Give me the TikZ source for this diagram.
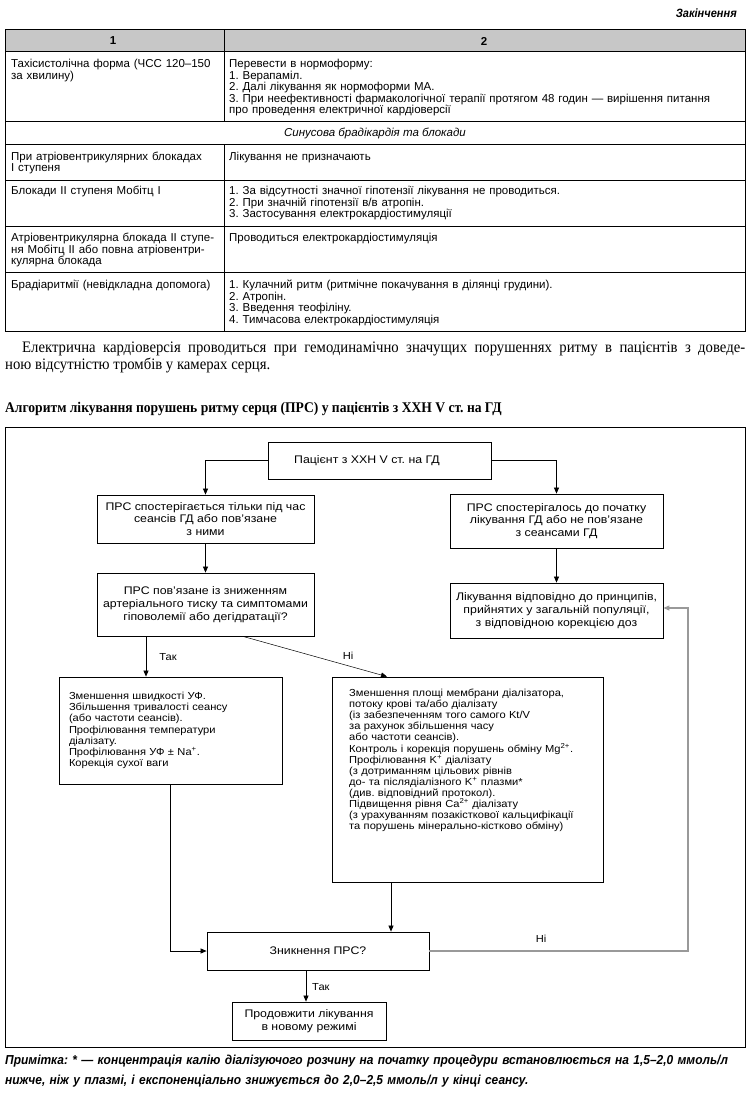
\documentclass[tikz,border=0pt]{standalone}
\usepackage{fontspec}
\setmainfont{Liberation Sans}
\newfontfamily\tabfont{Liberation Sans}
\newfontfamily\boxfont[FakeStretch=1.12]{Liberation Sans}
\newfontfamily\smallfont[FakeStretch=1.09]{Liberation Sans}
\newfontfamily\serfont[FakeStretch=0.92]{Liberation Serif}
\newfontfamily\notefont[FakeStretch=0.92]{Liberation Sans}
\usetikzlibrary{arrows.meta}
\begin{document}
\frenchspacing
\begin{tikzpicture}[x=1pt,y=-1pt,
  tline/.style={line width=1pt},
  ttext/.style={anchor=base west, inner sep=0pt, align=left, font=\tabfont\fontsize{11.5}{11.5}\selectfont},
  box/.style={draw, line width=0.8pt, inner sep=0pt, align=center, font=\boxfont\fontsize{11}{12.8}\selectfont},
  conn/.style={line width=0.7pt, -{Triangle[length=6pt,width=5pt]}},
  greyconn/.style={conn, draw=black!40, line width=1.1pt},
  lbl/.style={inner sep=0pt, font=\smallfont\fontsize{10.2}{12}\selectfont},
]
\useasboundingbox (0,0) rectangle (752,1097);

% ---------- table ----------
\node[anchor=base east, inner sep=0pt, font=\notefont\bfseries\itshape\fontsize{12}{12}\selectfont] (cont) at (737,18) {Закінчення};
\fill[black!22] (5,30) rectangle (745,52);
\draw[tline] (5,30) rectangle (745,331);
\foreach \yy in {52,122,144,180,226,272} \draw[tline] (5,\yy) -- (745,\yy);
\draw[tline] (224,30) -- (224,122);
\draw[tline] (224,144) -- (224,331);
\node[inner sep=0pt, font=\tabfont\bfseries\fontsize{11.5}{12}\selectfont] (h1) at (113,41) {1};
\node[inner sep=0pt, font=\tabfont\bfseries\fontsize{11.5}{12}\selectfont] (h2) at (484,41) {2};

\node[ttext, text width=212pt] (r1a) at (11,68) {Тахісистолічна форма (ЧСС 120–150\\за хвилину)};
\node[ttext, text width=515pt] (r1b) at (229,68) {Перевести в нормоформу:\\1. Верапаміл.\\2. Далі лікування як нормоформи МА.\\3. При неефективності фармакологічної терапії протягом 48 годин — вирішення питання\\про проведення електричної кардіоверсії};
\node[inner sep=0pt, font=\tabfont\itshape\fontsize{11.5}{11.5}\selectfont] (r2) at (375,133) {Синусова брадікардія та блокади};
\node[ttext, text width=212pt] (r3a) at (11,160.5) {При атріовентрикулярних блокадах\\І ступеня};
\node[ttext, text width=515pt] (r3b) at (229,160.5) {Лікування не призначають};
\node[ttext, text width=212pt] (r4a) at (11,194.5) {Блокади ІІ ступеня Мобітц І};
\node[ttext, text width=515pt] (r4b) at (229,194.5) {1. За відсутності значної гіпотензії лікування не проводиться.\\2. При значній гіпотензії в/в атропін.\\3. Застосування електрокардіостимуляції};
\node[ttext, text width=212pt] (r5a) at (11,241.5) {Атріовентрикулярна блокада ІІ ступе-\\ня Мобітц ІІ або повна атріовентри-\\кулярна блокада};
\node[ttext, text width=515pt] (r5b) at (229,241.5) {Проводиться електрокардіостимуляція};
\node[ttext, text width=212pt] (r6a) at (11,288.5) {Брадіаритмії (невідкладна допомога)};
\node[ttext, text width=515pt] (r6b) at (229,288.5) {1. Кулачний ритм (ритмічне покачування в ділянці грудини).\\2. Атропін.\\3. Введення теофіліну.\\4. Тимчасова електрокардіостимуляція};

% ---------- paragraph ----------
\node[anchor=base west, inner sep=0pt, font=\serfont\fontsize{16}{17}\selectfont] (p1) at (22,352)
  {\makebox[723pt][s]{Електрична кардіоверсія проводиться при гемодинамічно значущих порушеннях ритму в пацієнтів з доведе-}};
\node[anchor=base west, inner sep=0pt, font=\serfont\fontsize{16}{17}\selectfont] (p2) at (5,369)
  {ною відсутністю тромбів у камерах серця.};
\node[anchor=base west, inner sep=0pt, font=\serfont\bfseries\fontsize{14.75}{16}\selectfont] (title) at (5,412)
  {Алгоритм лікування порушень ритму серця (ПРС) у пацієнтів з ХХН V ст. на ГД};

% ---------- flowchart ----------
\draw[line width=0.8pt] (5,427) rectangle (745,1047);

\node[box, minimum width=223pt, minimum height=37pt] (P) at (379.5,460.5) {\hspace*{-25pt}Пацієнт з ХХН V ст. на ГД};
\node[box, minimum width=217pt, minimum height=48pt] (A) at (205.5,519)
  {ПРС спостерігається тільки під час\\сеансів ГД або пов’язане\\з ними};
\node[box, minimum width=217pt, minimum height=63pt] (B) at (205.5,604.5)
  {ПРС пов’язане із зниженням\\артеріального тиску та симптомами\\гіповолемії або дегідратації?};
\node[box, minimum width=213pt, minimum height=54pt] (C) at (556.5,521)
  {ПРС спостерігалось до початку\\лікування ГД або не пов’язане\\з сеансами ГД};
\node[box, minimum width=213pt, minimum height=55pt] (D) at (556.5,610.5)
  {Лікування відповідно до принципів,\\прийнятих у загальній популяції,\\з відповідною корекцією доз};
\node[box, minimum width=223pt, minimum height=107pt, text width=203pt, align=left, font=\smallfont\fontsize{10.2}{11.2}\selectfont] (E) at (170.5,730.5)
  {Зменшення швидкості УФ.\\Збільшення тривалості сеансу\\(або частоти сеансів).\\Профілювання температури\\діалізату.\\Профілювання УФ ± Na\textsuperscript{+}.\\Корекція сухої ваги};
\node[box, minimum width=271pt, minimum height=205pt] (F) at (467.5,779.5) {};
\node[anchor=base west, inner sep=0pt, align=left, text width=255pt, font=\smallfont\fontsize{10.2}{11.1}\selectfont] (tF) at (349,696.5)
  {Зменшення площі мембрани діалізатора,\\потоку крові та/або діалізату\\(із забезпеченням того самого Kt/V\\за рахунок збільшення часу\\або частоти сеансів).\\Контроль і корекція порушень обміну Mg\textsuperscript{2+}.\\Профілювання K\textsuperscript{+} діалізату\\(з дотриманням цільових рівнів\\до- та післядіалізного K\textsuperscript{+} плазми*\\(див. відповідний протокол).\\Підвищення рівня Ca\textsuperscript{2+} діалізату\\(з урахуванням позакісткової кальцифікації\\та порушень мінерально-кістково обміну)};
\node[box, minimum width=222pt, minimum height=38pt] (G) at (318,951) {Зникнення ПРС?};
\node[box, minimum width=154pt, minimum height=38pt] (H) at (309,1021) {Продовжити лікування\\в новому режимі};

\coordinate (xE) at (146,0);
\coordinate (xN1) at (243,0);
\coordinate (xN2) at (387,0);
\coordinate (xF) at (391,0);
\coordinate (xG) at (306,0);
\coordinate (xR) at (688,0);
\coordinate (yD) at (0,608);

\draw[conn] (P.west) -| (A.north);
\draw[conn] (P.east) -| (C.north);
\draw[conn] (A.south) -- (B.north);
\draw[conn] (C.south) -- (D.north);
\draw[conn] (B.south -| xE) -- (E.north -| xE);
\draw[conn, line width=0.5pt] (B.south -| xN1) -- (F.north -| xN2);
\draw[conn] (E.south) |- (G.west);
\draw[conn] (F.south -| xF) -- (G.north -| xF);
\draw[conn] (G.south -| xG) -- (H.north -| xG);
\draw[greyconn] (G.east) -| (xR |- yD) -- (D.east |- yD);

\node[lbl] (l1) at (168,657) {Так};
\node[lbl] (l2) at (348,656) {Ні};
\node[lbl, anchor=west] (l3) at (312,987) {Так};
\node[lbl] (l4) at (541,939) {Ні};

% ---------- footnote ----------
\node[anchor=base west, inner sep=0pt, align=left, text width=745pt, font=\notefont\bfseries\itshape\fontsize{13}{20}\selectfont] (note) at (5,1064)
  {Примітка: * — концентрація калію діалізуючого розчину на початку процедури встановлюється на 1,5–2,0 ммоль/л\\нижче, ніж у плазмі, і експоненціально знижується до 2,0–2,5 ммоль/л у кінці сеансу.};
\end{tikzpicture}
\end{document}
